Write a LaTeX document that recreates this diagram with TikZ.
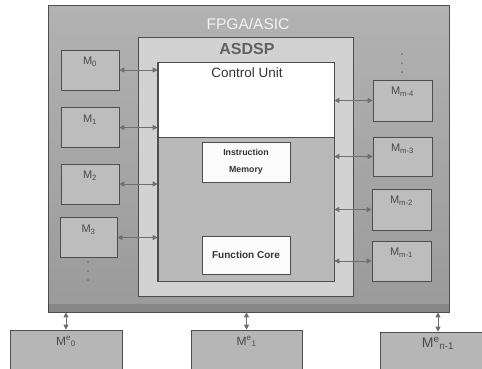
\documentclass[tikz,border=0pt]{standalone}
\usepackage{fontspec}
\setmainfont{Liberation Sans}
\usetikzlibrary{arrows.meta}
\definecolor{outertop}{HTML}{B2B2B2}
\definecolor{outerbot}{HTML}{9A9A9A}
\definecolor{dspc}{HTML}{D2D2D2}
\definecolor{bodyc}{HTML}{B9B9B9}
\definecolor{mboxc}{HTML}{BDBDBD}
\definecolor{extc}{HTML}{B6B6B6}
\definecolor{edgec}{HTML}{4E4E4E}
\definecolor{arrc}{HTML}{707070}
\definecolor{txtc}{HTML}{4A4A4A}
\tikzset{
  box/.style={draw=edgec, line width=0.6pt, rectangle, inner sep=0pt},
  mbox/.style={box, fill=mboxc, minimum width=58pt, minimum height=40pt},
  extbox/.style={box, fill=extc, minimum width=112pt, minimum height=60pt},
  mlab/.style={anchor=north, inner sep=0pt, text=txtc, font=\fontsize{11}{12}\selectfont},
  biarrow/.style={draw=arrc, line width=0.9pt, {Triangle[length=5pt,width=5pt]}-{Triangle[length=5pt,width=5pt]}},
  dotc/.style={fill=arrc, draw=none, minimum size=2pt, inner sep=0pt, circle}
}
\begin{document}
\begin{tikzpicture}[x=1pt,y=-1pt]
\useasboundingbox (0,0) rectangle (482,368);
\clip (0,0) rectangle (482,368);
\fill[white] (0,0) rectangle (482,368);
% outer FPGA box
\node[box, top color=outertop, bottom color=outerbot, minimum width=401pt, minimum height=307pt] (fpga) at (248.5,158.5) {};
\fill[black, opacity=0.12] (fpga.south west) ++(0.3,-8) rectangle (fpga.south east);
\node[anchor=north, inner sep=0pt, text=white!90!gray, font=\fontsize{15.5}{16}\selectfont] (fpgat) at (248,18) {FPGA/ASIC};
% ASDSP box
\node[box, fill=dspc, minimum width=215pt, minimum height=259pt] (dsp) at (245.5,166.5) {};
\node[anchor=north, inner sep=0pt, text=black!62, font=\fontsize{16}{17}\selectfont\bfseries] (dspt) at (247,43) {ASDSP};
% core box
\node[box, fill=bodyc, minimum width=176pt, minimum height=218pt] (core) at (246,172) {};
\node[box, fill=white, draw=none, minimum width=175pt, minimum height=73.5pt] (cu) at (246,100.2) {};
\draw[edgec, line width=0.6pt] (core.west |- cu.south) -- (core.east |- cu.south);
\draw[edgec, line width=0.6pt] (core.north west) rectangle (core.south east);
\node[anchor=north, inner sep=0pt, text=black!80, font=\fontsize{13.5}{14}\selectfont] (cut) at (247,68) {Control Unit};
% instruction memory
\node[box, fill=white!97!gray, minimum width=88pt, minimum height=40pt, align=center, text=black!80, font=\fontsize{8.8}{17}\selectfont\bfseries] (imem) at (246,162) {Instruction\\Memory};
% function core
\node[box, fill=white!97!gray, minimum width=88pt, minimum height=38pt, text=black!80, font=\fontsize{10}{12}\selectfont\bfseries] (fcore) at (246,255) {Function Core};
% left memories
\node[mbox] (m0) at (90,70) {};
\node[mbox] (m1) at (90,127.5) {};
\node[mbox] (m2) at (90,184) {};
\node[mbox, minimum width=57pt] (m3) at (88.5,237.5) {};
\node[mlab] (m0l) at ([yshift=-7.5pt]m0.north) {M\textsubscript{0}};
\node[mlab] (m1l) at ([yshift=-7.5pt]m1.north) {M\textsubscript{1}};
\node[mlab] (m2l) at ([yshift=-7.5pt]m2.north) {M\textsubscript{2}};
\node[mlab] (m3l) at ([yshift=-7.5pt]m3.north) {M\textsubscript{3}};
\node[dotc] (ld1) at (88,262) {};
\node[dotc] (ld2) at (88,271) {};
\node[dotc] (ld3) at (88,280) {};
% right memories
\node[mbox, minimum width=59pt, minimum height=41pt] (r4) at (402.5,100.5) {};
\node[mbox, minimum width=59pt, minimum height=39pt] (r3) at (402.5,156.5) {};
\node[mbox, minimum width=59pt, minimum height=41pt] (r2) at (401.5,209.5) {};
\node[mbox, minimum width=59pt, minimum height=40pt] (r1) at (401.5,261) {};
\node[mlab] (r4l) at ([yshift=-7.5pt]r4.north) {M\textsubscript{m-4}};
\node[mlab] (r3l) at ([yshift=-7.5pt]r3.north) {M\textsubscript{m-3}};
\node[mlab] (r2l) at ([yshift=-7.5pt]r2.north) {M\textsubscript{m-2}};
\node[mlab] (r1l) at ([yshift=-7.5pt]r1.north) {M\textsubscript{m-1}};
\node[dotc] (rd1) at (402,54) {};
\node[dotc] (rd2) at (402,63) {};
\node[dotc] (rd3) at (402,72) {};
% left arrows
\draw[biarrow] (m0.east) -- (m0.east -| core.west);
\draw[biarrow] (m1.east) -- (m1.east -| core.west);
\draw[biarrow] (m2.east) -- (m2.east -| core.west);
\draw[biarrow] (m3.east) -- (m3.east -| core.west);
% right arrows
\draw[biarrow] (r4.west -| core.east) -- (r4.west);
\draw[biarrow] (r3.west -| core.east) -- (r3.west);
\draw[biarrow] (r2.west -| core.east) -- (r2.west);
\draw[biarrow] (r1.west -| core.east) -- (r1.west);
% external memories
\node[extbox] (e0) at (66,360) {};
\node[extbox, minimum width=111pt] (e1) at (246.5,360) {};
\node[extbox, minimum width=116pt] (e2) at (438,362) {};
\node[mlab, font=\fontsize{12}{13}\selectfont] (e0l) at ([yshift=-6.5pt]e0.north) {M\textsuperscript{e}\textsubscript{0}};
\node[mlab, font=\fontsize{12}{13}\selectfont] (e1l) at ([yshift=-6.5pt]e1.north) {M\textsuperscript{e}\textsubscript{1}};
\node[mlab, font=\fontsize{14}{15}\selectfont] (e2l) at ([yshift=-5pt]e2.north) {M\textsuperscript{e}\textsubscript{n-1}};
\draw[biarrow] (e0.north |- fpga.south) -- (e0.north);
\draw[biarrow] (e1.north |- fpga.south) -- (e1.north);
\draw[biarrow] (e2.north |- fpga.south) -- (e2.north);
\end{tikzpicture}
\end{document}
